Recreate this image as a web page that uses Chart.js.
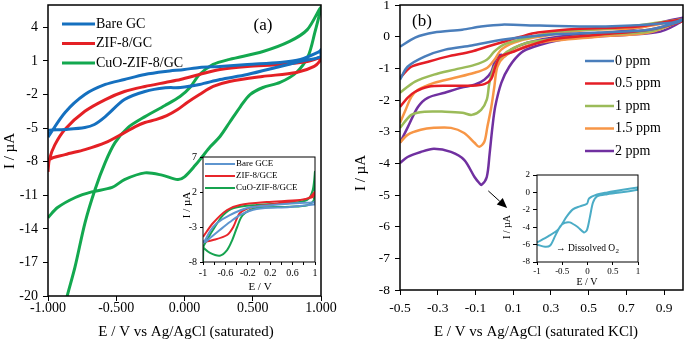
<!DOCTYPE html>
<html>
<head>
<meta charset="utf-8">
<script src="https://cdn.jsdelivr.net/npm/chart.js@4.4.1/dist/chart.umd.min.js"></script>
<style>
  html, body { margin: 0; padding: 0; background: #fff; }
  #wrap { position: relative; width: 685px; height: 339px; }
  #wrap canvas { position: absolute; left: 0; top: 0; }
</style>
</head>
<body>
<div id="wrap">
  <canvas id="cvA" width="685" height="339"></canvas>
  <canvas id="cvB" width="685" height="339"></canvas>
  <canvas id="cvInsetA" width="685" height="339"></canvas>
  <canvas id="cvInsetB" width="685" height="339"></canvas>
</div>
<script>
// ---- (a) CVs of the electrodes, [E (V), I (uA)] ----
const bareGC = [
  [-1.0, -5.8], [-0.875, -3.6], [-0.73, -2.0], [-0.58, -1.1], [-0.44, -0.66], [-0.29, -0.21],
  [-0.14, 0.06], [0.0, 0.24], [0.11, 0.42], [0.26, 0.51], [0.46, 0.69], [0.70, 0.87], [0.85, 1.14],
  [0.99, 1.85], [1.0, 2.0],
  [1.0, 1.4], [0.85, 0.96], [0.70, 0.51], [0.46, -0.21], [0.26, -0.66], [0.11, -1.1], [-0.03, -1.37],
  [-0.14, -1.4], [-0.29, -1.73], [-0.44, -2.45], [-0.58, -3.97], [-0.66, -4.68], [-0.73, -4.95],
  [-0.875, -5.13], [-1.0, -5.22], [-1.0, -5.8]
];
const zif8GC = [
  [-1.0, -8.9], [-0.99, -7.8], [-0.95, -6.5], [-0.875, -5.1], [-0.73, -3.5], [-0.58, -2.45],
  [-0.44, -1.73], [-0.29, -1.28], [-0.14, -0.92], [-0.03, -0.66], [0.11, -0.21], [0.26, 0.24],
  [0.46, 0.51], [0.70, 0.69], [0.90, 0.96], [0.99, 1.3], [1.0, 1.4],
  [1.0, 1.14], [0.95, 0.51], [0.82, -0.03], [0.57, -0.39], [0.33, -0.83], [0.21, -1.28], [0.11, -2.0],
  [0.02, -2.71], [-0.05, -3.34], [-0.13, -3.88], [-0.21, -4.24], [-0.29, -4.5], [-0.36, -4.86],
  [-0.44, -5.4], [-0.58, -6.3], [-0.73, -6.92], [-0.875, -7.37], [-0.99, -7.82], [-1.0, -8.9]
];
const cuoZif8GC = [
  [-1.0, -13.0], [-0.93, -12.1], [-0.80, -11.2], [-0.68, -10.7], [-0.53, -10.3], [-0.44, -9.6],
  [-0.29, -9.0], [-0.165, -9.2], [-0.05, -9.6], [0.0, -9.35], [0.08, -8.3], [0.13, -7.55],
  [0.19, -6.65], [0.26, -5.75], [0.33, -4.5], [0.41, -3.07], [0.48, -2.0], [0.575, -1.37],
  [0.70, -0.92], [0.82, -0.03], [0.905, 1.4], [0.955, 3.55], [1.0, 5.8],
  [0.90, 3.8], [0.77, 2.75], [0.575, 1.85], [0.33, 1.14], [0.21, 0.69], [0.11, -0.21], [0.04, -1.37],
  [-0.033, -2.18], [-0.143, -2.98], [-0.289, -3.97], [-0.414, -4.95], [-0.509, -6.3], [-0.582, -8.1],
  [-0.656, -10.5], [-0.729, -13.46], [-0.802, -17.4], [-0.861, -20.08], [-0.912, -22.6]
];
const labelsA = ['Bare GC', 'ZIF-8/GC', 'CuO-ZIF-8/GC'];
const xTicksA = [-1, -0.5, 0, 0.5, 1];
const yTicksA = [-20, -17, -14, -11, -8, -5, -2, 1, 4];

// ---- (a) inset ----
const insetBare = [
  [-1.0, -5.1], [-0.96, -4.86], [-0.875, -3.6], [-0.75, -2.43], [-0.52, -1.29], [-0.21, -0.29],
  [0.25, 0.14], [0.73, 0.43], [0.95, 0.5], [1.0, 0.6],
  [1.0, 0.3], [0.98, 0.2], [0.55, -0.14], [-0.04, -0.43], [-0.34, -1.29], [-0.52, -2.29],
  [-0.7, -3.43], [-0.875, -4.57], [-0.96, -5.14], [-1.0, -5.2]
];
const insetZif8 = [
  [-1.0, -4.43], [-0.82, -2.43], [-0.57, -0.57], [-0.34, 0.14], [0.14, 0.57], [0.73, 0.86],
  [0.9, 1.2], [1.0, 2.0],
  [0.96, 1.29], [0.43, 0.43], [-0.11, -0.14], [-0.34, -1.0], [-0.46, -3.0], [-0.57, -4.14],
  [-0.82, -4.86], [-1.0, -5.14]
];
const insetCuo = [
  [-1.0, -8.0], [-0.99, -5.8], [-0.96, -5.3], [-0.82, -3.4], [-0.64, -1.3], [-0.45, -0.3],
  [-0.04, 0.14], [0.55, 0.43], [0.86, 0.86], [0.96, 2.3], [1.0, 4.9],
  [0.98, 0.9], [0.86, 0.1], [0.55, -0.1], [-0.04, -0.3], [-0.29, -1.3], [-0.39, -3.0],
  [-0.48, -4.9], [-0.57, -6.3], [-0.7, -7.1], [-0.875, -6.7], [-1.0, -5.9]
];
const labelsInsetA = ['Bare GCE', 'ZIF-8/GCE', 'CuO-ZIF-8/GCE'];
const xTicksInsetA = [-1, -0.8, -0.6, -0.4, -0.2, 0, 0.2, 0.4, 0.6, 0.8, 1];
const xLabelsInsetA = [-1, -0.6, -0.2, 0.2, 0.6, 1];
const yTicksInsetA = [-8, -3, 2, 7];

// ---- (b) CVs at increasing O2 concentration ----
const ppm0 = [
  [-0.5, -1.36], [-0.46, -0.95], [-0.37, -0.63], [-0.26, -0.41], [-0.12, -0.28], [0.05, -0.09],
  [0.29, 0.06], [0.55, 0.13], [0.82, 0.22], [0.98, 0.47], [1.0, 0.55],
  [0.94, 0.44], [0.59, 0.32], [0.24, 0.35], [0.04, 0.38], [-0.07, 0.32], [-0.17, 0.22],
  [-0.32, 0.13], [-0.42, -0.03], [-0.5, -0.32]
];
const ppm05 = [
  [-0.5, -2.22], [-0.46, -1.93], [-0.42, -1.74], [-0.35, -1.58], [-0.25, -1.55], [-0.12, -1.55],
  [-0.05, -1.49], [-0.016, -1.33], [0.005, -0.95], [0.026, -0.66], [0.053, -0.57], [0.105, -0.47],
  [0.17, -0.32], [0.3, -0.09], [0.55, 0.06], [0.82, 0.22], [0.99, 0.47], [1.0, 0.55],
  [0.76, 0.32], [0.45, 0.25], [0.23, 0.13], [0.14, 0.0], [0.05, -0.16], [-0.04, -0.32],
  [-0.12, -0.47], [-0.25, -0.63], [-0.35, -0.79], [-0.44, -0.95], [-0.5, -1.3]
];
const ppm1 = [
  [-0.5, -2.88], [-0.44, -2.47], [-0.37, -2.37], [-0.26, -2.37], [-0.17, -2.4], [-0.12, -2.47],
  [-0.07, -2.31], [-0.04, -1.99], [-0.026, -1.46], [0.0, -0.95], [0.037, -0.63], [0.105, -0.35],
  [0.2, -0.16], [0.55, 0.06], [0.82, 0.16], [0.99, 0.5], [1.0, 0.55],
  [0.66, 0.28], [0.34, 0.16], [0.14, -0.09], [0.05, -0.25], [0.0, -0.47], [-0.04, -0.73],
  [-0.105, -0.89], [-0.21, -1.04], [-0.32, -1.2], [-0.42, -1.42], [-0.5, -1.77]
];
const ppm15 = [
  [-0.5, -3.35], [-0.46, -3.1], [-0.39, -2.94], [-0.32, -2.88], [-0.23, -2.88], [-0.16, -3.04],
  [-0.105, -3.35], [-0.08, -3.48], [-0.053, -3.32], [-0.037, -2.85], [-0.016, -2.22], [0.0, -1.58],
  [0.016, -0.95], [0.053, -0.63], [0.12, -0.41], [0.23, -0.19], [0.55, 0.0], [0.82, 0.13],
  [0.99, 0.5], [1.0, 0.55],
  [0.76, 0.28], [0.45, 0.19], [0.21, -0.03], [0.105, -0.19], [0.037, -0.41], [0.0, -0.73],
  [-0.037, -0.98], [-0.105, -1.14], [-0.21, -1.3], [-0.32, -1.46], [-0.405, -1.68], [-0.44, -1.9],
  [-0.47, -2.31], [-0.5, -2.72]
];
const ppm2 = [
  [-0.5, -3.99], [-0.46, -3.8], [-0.39, -3.64], [-0.32, -3.54], [-0.23, -3.64], [-0.16, -3.89],
  [-0.105, -4.43], [-0.08, -4.62], [-0.068, -4.68], [-0.04, -4.43], [-0.025, -3.7], [-0.01, -2.85],
  [0.005, -2.2], [0.037, -1.46], [0.079, -0.95], [0.142, -0.51], [0.21, -0.32], [0.36, -0.09],
  [0.53, 0.0], [0.71, 0.06], [0.88, 0.16], [0.99, 0.47], [1.0, 0.6],
  [0.66, 0.16], [0.34, 0.0], [0.174, -0.19], [0.089, -0.41], [0.053, -0.63], [0.037, -0.57],
  [0.016, -0.63], [0.0, -0.82], [-0.016, -1.11], [-0.053, -1.36], [-0.105, -1.52], [-0.174, -1.61],
  [-0.263, -1.77], [-0.353, -1.93], [-0.405, -2.22], [-0.458, -2.85], [-0.5, -3.35]
];
const labelsB = ['0 ppm', '0.5 ppm', '1 ppm', '1.5 ppm', '2 ppm'];
const xTicksB = [-0.5, -0.3, -0.1, 0.1, 0.3, 0.5, 0.7, 0.9];
const yTicksB = [-8, -7, -6, -5, -4, -3, -2, -1, 0, 1];

// ---- (b) inset: dissolved O2 ----
const insetO2 = [
  [-1.0, -5.75], [-0.78, -5.06], [-0.58, -4.25], [-0.41, -2.76], [-0.29, -1.95], [-0.15, -1.6],
  [-0.01, -1.3], [0.03, -0.7], [0.19, -0.23], [0.39, 0.0], [1.0, 0.57],
  [1.0, 0.3], [0.39, -0.2], [0.19, -0.46], [0.11, -1.15], [0.05, -2.76], [-0.01, -4.3],
  [-0.07, -4.6], [-0.19, -4.0], [-0.35, -3.45], [-0.45, -3.5], [-0.54, -3.9], [-0.64, -5.0],
  [-0.74, -6.1], [-0.84, -6.25], [-1.0, -6.0]
];
const xTicksInsetB = [-1, -0.5, 0, 0.5, 1];
const yTicksInsetB = [-8, -6, -4, -2, 0, 2];

const W = 685, H = 339;
const SERIF = '"Liberation Serif", "Times New Roman", serif';
Chart.defaults.font.family = SERIF;
Chart.defaults.color = '#000';

const toXY = pts => pts.map(([x, y]) => ({ x, y }));

function curve(label, pts, color, width) {
  return {
    label,
    data: toXY(pts),
    showLine: true,
    borderColor: color,
    backgroundColor: color,
    borderWidth: width,
    pointRadius: 0,
    tension: 0.3,
    fill: false,
  };
}

// chart area [left, top, right, bottom] given fixed axis sizes
function boxLayout(box, yAxisW, xAxisH) {
  return {
    padding: { left: box[0] - yAxisW, top: box[1], right: W - box[2], bottom: H - box[3] - xAxisH },
  };
}

function axis(o) {
  return {
    type: 'linear',
    bounds: 'data',
    min: o.min,
    max: o.max,
    afterBuildTicks: (s) => { s.ticks = o.ticks.map((v) => ({ value: v })); },
    afterFit: (s) => {
      if (s.isHorizontal()) { s.height = o.size; s.paddingLeft = 0; s.paddingRight = 0; }
      else { s.width = o.size; s.paddingTop = 0; s.paddingBottom = 0; }
    },
    grid: { drawOnChartArea: false, drawTicks: true, tickLength: o.tickLength, color: '#000', lineWidth: 1 },
    border: { display: false },
    ticks: {
      font: { size: o.fontSize },
      padding: o.pad,
      autoSkip: false,
      maxRotation: 0,
      minRotation: 0,
      color: '#000',
      callback: o.format || ((v) => String(v)),
    },
  };
}

function drawText(ctx, t) {
  ctx.save();
  ctx.font = t.font;
  ctx.fillStyle = '#000';
  ctx.textAlign = t.align || 'center';
  ctx.textBaseline = 'middle';
  ctx.translate(t.x, t.y);
  if (t.rot) ctx.rotate((t.rot * Math.PI) / 180);
  ctx.fillText(t.text, 0, 0);
  if (t.sub) {
    const w = ctx.measureText(t.text).width;
    ctx.font = t.subFont;
    ctx.textAlign = 'left';
    ctx.fillText(t.sub, w + 0.5, 3);
  }
  ctx.restore();
}

// frame, legend, labels and arrow for one panel
function decor(cfg) {
  return {
    id: 'decor',
    beforeDraw(chart) {
      if (!cfg.fill) return;
      const a = chart.chartArea;
      chart.ctx.save();
      chart.ctx.fillStyle = cfg.fill;
      chart.ctx.fillRect(a.left, a.top, a.width, a.height);
      chart.ctx.restore();
    },
    afterDraw(chart) {
      const { ctx, chartArea: a } = chart;
      ctx.save();
      ctx.strokeStyle = '#000';
      ctx.lineWidth = cfg.frame;
      ctx.strokeRect(a.left, a.top, a.width, a.height);

      if (cfg.legend) {
        const L = cfg.legend;
        chart.data.datasets.forEach((ds, i) => {
          const y = L.y + i * L.gap;
          ctx.strokeStyle = ds.borderColor;
          ctx.lineWidth = L.width;
          ctx.beginPath();
          ctx.moveTo(L.x, y);
          ctx.lineTo(L.x + L.len, y);
          ctx.stroke();
          drawText(ctx, { text: ds.label, x: L.x + L.len + 1, y: y, font: L.font, align: 'left' });
        });
      }

      if (cfg.arrow) {
        const sx = chart.scales.x, sy = chart.scales.y;
        const x0 = sx.getPixelForValue(cfg.arrow.from[0]), y0 = sy.getPixelForValue(cfg.arrow.from[1]);
        const x1 = sx.getPixelForValue(cfg.arrow.to[0]), y1 = sy.getPixelForValue(cfg.arrow.to[1]);
        const ang = Math.atan2(y1 - y0, x1 - x0);
        const head = 10, half = 4.5;
        const bx = x1 - head * Math.cos(ang), by = y1 - head * Math.sin(ang);
        ctx.strokeStyle = '#000';
        ctx.fillStyle = '#000';
        ctx.lineWidth = 1;
        ctx.beginPath();
        ctx.moveTo(x0, y0);
        ctx.lineTo(bx, by);
        ctx.stroke();
        ctx.beginPath();
        ctx.moveTo(x1, y1);
        ctx.lineTo(bx + half * Math.sin(ang), by - half * Math.cos(ang));
        ctx.lineTo(bx - half * Math.sin(ang), by + half * Math.cos(ang));
        ctx.closePath();
        ctx.fill();
      }

      (cfg.texts || []).forEach((t) => drawText(ctx, t));
      ctx.restore();
    },
  };
}

function baseOptions(layout, scales) {
  return {
    responsive: false,
    animation: false,
    devicePixelRatio: 1,
    events: [],
    layout,
    scales,
    plugins: { legend: { display: false }, tooltip: { enabled: false } },
  };
}

// ---- panel (a) ----
new Chart(document.getElementById('cvA'), {
  type: 'scatter',
  data: {
    datasets: [
      curve(labelsA[0], bareGC, '#1570BF', 3),
      curve(labelsA[1], zif8GC, '#E42025', 3),
      curve(labelsA[2], cuoZif8GC, '#13A84F', 3),
    ],
  },
  options: baseOptions(boxLayout([48, 5, 321, 296], 40, 30), {
    x: axis({ min: -1, max: 1, ticks: xTicksA, size: 30, tickLength: 5, pad: -1, fontSize: 14, format: (v) => v.toFixed(3) }),
    y: axis({ min: -20, max: 6, ticks: yTicksA, size: 40, tickLength: 5, pad: 5, fontSize: 14 }),
  }),
  plugins: [decor({
    frame: 1.5,
    legend: { x: 62, y: 24, gap: 19.5, len: 33, width: 3, font: '14px ' + SERIF },
    texts: [
      { text: '(a)', x: 263, y: 26, font: '17px ' + SERIF },
      { text: 'E / V vs Ag/AgCl (saturated)', x: 186, y: 332, font: '15px ' + SERIF },
      { text: 'I / µA', x: 10, y: 151, rot: -90, font: '15px ' + SERIF },
    ],
  })],
});

// ---- panel (b) ----
new Chart(document.getElementById('cvB'), {
  type: 'scatter',
  data: {
    datasets: [
      curve(labelsB[0], ppm0, '#4A7EBB', 2.5),
      curve(labelsB[1], ppm05, '#E41E26', 2.5),
      curve(labelsB[2], ppm1, '#9BBB59', 2.5),
      curve(labelsB[3], ppm15, '#F79646', 2.5),
      curve(labelsB[4], ppm2, '#7030A0', 2.5),
    ],
  },
  options: baseOptions(boxLayout([400, 5, 683, 290], 35, 30), {
    x: axis({ min: -0.5, max: 1.0, ticks: xTicksB, size: 30, tickLength: 5, pad: 5, fontSize: 13.5, format: (v) => v.toFixed(1) }),
    y: axis({ min: -8, max: 1, ticks: yTicksB, size: 35, tickLength: 5, pad: 5, fontSize: 13.5 }),
  }),
  plugins: [decor({
    frame: 1.5,
    legend: { x: 585, y: 61, gap: 22.5, len: 29, width: 2.5, font: '14px ' + SERIF },
    arrow: { from: [-0.032, -4.87], to: [0.068, -5.41] },
    texts: [
      { text: '(b)', x: 422, y: 22, font: '17px ' + SERIF },
      { text: 'E / V vs Ag/AgCl (saturated KCl)', x: 536, y: 332, font: '15px ' + SERIF },
      { text: 'I / µA', x: 361, y: 173, rot: -90, font: '15px ' + SERIF },
    ],
  })],
});

// ---- inset of panel (a) ----
new Chart(document.getElementById('cvInsetA'), {
  type: 'scatter',
  data: {
    datasets: [
      curve(labelsInsetA[0], insetBare, '#5E95CF', 2),
      curve(labelsInsetA[1], insetZif8, '#E8262B', 2),
      curve(labelsInsetA[2], insetCuo, '#16A34F', 2),
    ],
  },
  options: baseOptions(boxLayout([203, 157, 315, 262], 18, 20), {
    x: axis({
      min: -1, max: 1, ticks: xTicksInsetA, size: 20, tickLength: 3, pad: 2, fontSize: 10,
      format: (v) => (xLabelsInsetA.includes(v) ? String(v) : ''),
    }),
    y: axis({ min: -8, max: 7, ticks: yTicksInsetA, size: 18, tickLength: 3, pad: 3, fontSize: 10 }),
  }),
  plugins: [decor({
    frame: 1,
    fill: '#fff',
    legend: { x: 205, y: 164, gap: 12, len: 30, width: 2, font: '9px ' + SERIF },
    texts: [
      { text: 'E / V', x: 260, y: 287, font: '11px ' + SERIF },
      { text: 'I / µA', x: 187, y: 205, rot: -90, font: '11px ' + SERIF },
    ],
  })],
});

// ---- inset of panel (b) ----
new Chart(document.getElementById('cvInsetB'), {
  type: 'scatter',
  data: { datasets: [curve('', insetO2, '#4BACC6', 2)] },
  options: baseOptions(boxLayout([537, 175, 638, 262], 18, 20), {
    x: axis({ min: -1, max: 1, ticks: xTicksInsetB, size: 20, tickLength: 3, pad: 1, fontSize: 9 }),
    y: axis({ min: -8, max: 2, ticks: yTicksInsetB, size: 18, tickLength: 4, pad: 3, fontSize: 9 }),
  }),
  plugins: [decor({
    frame: 1,
    fill: '#fff',
    texts: [
      { text: '→ Dissolved O', sub: '2', subFont: '7px ' + SERIF, x: 556, y: 248, align: 'left', font: '9.5px ' + SERIF },
      { text: 'E / V', x: 587, y: 282, font: '10px ' + SERIF },
      { text: 'I / µA', x: 507, y: 227, rot: -90, font: '10px ' + SERIF },
    ],
  })],
});
</script>
</body>
</html>
